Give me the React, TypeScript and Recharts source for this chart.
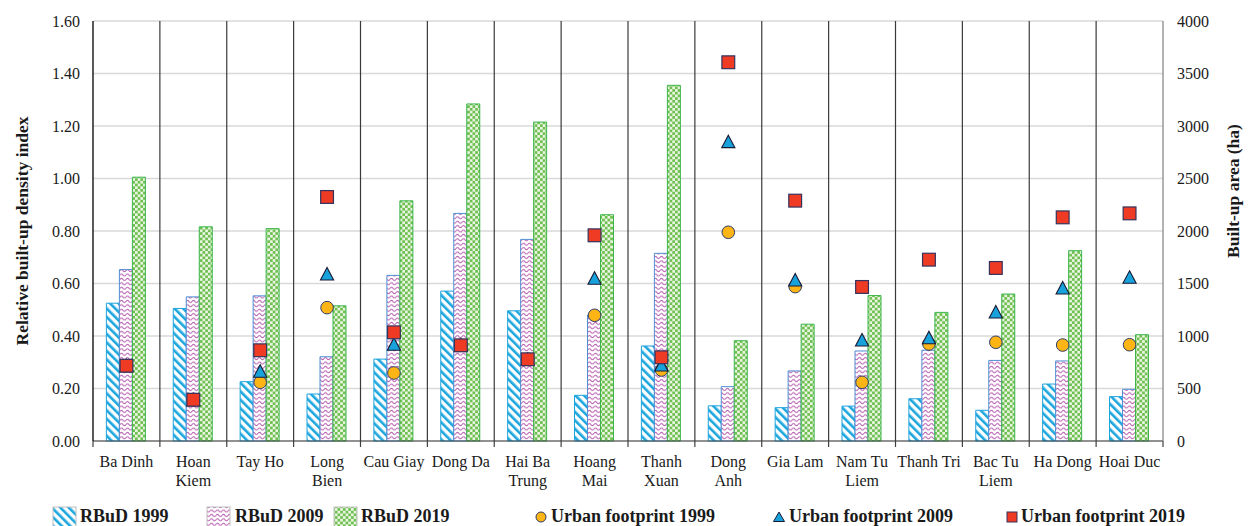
import React from "react"
import { ComposedChart, Bar, Line, XAxis, YAxis, CartesianGrid } from "recharts"

const categories = [
  "Ba Dinh", "Hoan Kiem", "Tay Ho", "Long Bien", "Cau Giay", "Dong Da",
  "Hai Ba Trung", "Hoang Mai", "Thanh Xuan", "Dong Anh", "Gia Lam",
  "Nam Tu Liem", "Thanh Tri", "Bac Tu Liem", "Ha Dong", "Hoai Duc",
]

// two-line labels as they wrap under the axis
const tickLabels = [
  "Ba Dinh", "Hoan\nKiem", "Tay Ho", "Long\nBien", "Cau Giay", "Dong Da",
  "Hai Ba\nTrung", "Hoang\nMai", "Thanh\nXuan", "Dong\nAnh", "Gia Lam",
  "Nam Tu\nLiem", "Thanh Tri", "Bac Tu\nLiem", "Ha Dong", "Hoai Duc",
]

// relative built-up density index (left axis)
const rbud1999 = [0.525, 0.505, 0.226, 0.179, 0.312, 0.571, 0.496, 0.174, 0.362, 0.134, 0.127, 0.133, 0.161, 0.117, 0.217, 0.169]
const rbud2009 = [0.653, 0.549, 0.553, 0.321, 0.631, 0.867, 0.768, 0.48, 0.715, 0.207, 0.267, 0.343, 0.346, 0.307, 0.305, 0.197]
const rbud2019 = [1.005, 0.816, 0.809, 0.515, 0.915, 1.284, 1.215, 0.862, 1.355, 0.382, 0.445, 0.554, 0.49, 0.56, 0.725, 0.405]

// built-up area in ha (right axis)
const footprint1999 = [717, 393, 559, 1270, 648, 911, 778, 1197, 676, 1988, 1470, 559, 924, 940, 914, 917]
const footprint2009 = [717, 393, 665, 1590, 921, 911, 778, 1550, 724, 2851, 1533, 962, 984, 1229, 1457, 1559]
const footprint2019 = [717, 393, 864, 2324, 1035, 911, 778, 1959, 797, 3607, 2289, 1467, 1727, 1648, 2130, 2168]

const leftTicks = [0, 0.2, 0.4, 0.6, 0.8, 1.0, 1.2, 1.4, 1.6]
const rightTicks = [0, 500, 1000, 1500, 2000, 2500, 3000, 3500, 4000]

const data = categories.map((name, i) => ({
  name,
  rbud1999: rbud1999[i],
  rbud2009: rbud2009[i],
  rbud2019: rbud2019[i],
  fp1999: footprint1999[i],
  fp2009: footprint2009[i],
  fp2019: footprint2019[i],
}))

const FONT = '"Liberation Serif", "Times New Roman", serif'
const TEXT = "#1a1a1a"

const C1999 = { fill: "url(#p1999)", stroke: "#1fa3dc" }
const C2009 = { fill: "url(#p2009)", stroke: "#4f8fd3" }
const C2019 = { fill: "url(#p2019)", stroke: "#3bb54a" }

const circleStyle = { fill: "#fdb515", stroke: "#2e3d6b" }
const triStyle = { fill: "#17a2dc", stroke: "#1a1a33" }
const squareStyle = { fill: "#ef3b24", stroke: "#33335e" }

function Patterns() {
  return (
    <svg width={0} height={0} style={{ position: "absolute" }}>
      <defs>
        <pattern id="p1999" patternUnits="userSpaceOnUse" width={6} height={6} patternTransform="rotate(-45)">
          <rect width={6} height={6} fill="#ffffff" />
          <rect width={2.6} height={6} fill="#1ca6de" />
        </pattern>
        <pattern id="p2009" patternUnits="userSpaceOnUse" width={6} height={4.4}>
          <rect width={6} height={4.4} fill="#ffffff" />
          <path d="M0 2.2 Q1.5 0.2 3 2.2 T6 2.2" fill="none" stroke="#b455ab" strokeWidth={1.1} strokeOpacity={0.9} />
        </pattern>
        <pattern id="p2019" patternUnits="userSpaceOnUse" width={5.4} height={5.4}>
          <rect width={5.4} height={5.4} fill="#e9f5e2" />
          <rect width={2.7} height={2.7} fill="#6fc051" />
          <rect x={2.7} y={2.7} width={2.7} height={2.7} fill="#6fc051" />
        </pattern>
      </defs>
    </svg>
  )
}

function CategoryTick(props: any) {
  const { x, y, payload, index } = props
  const lines = (tickLabels[index] ?? String(payload.value)).split("\n")
  const half = payload.offset ?? 33.4
  return (
    <g>
      <line x1={x - half} x2={x - half} y1={y - 6} y2={y} stroke="#404040" strokeWidth={1.2} />
      {index === categories.length - 1 && (
        <line x1={x + half} x2={x + half} y1={y - 6} y2={y} stroke="#404040" strokeWidth={1.2} />
      )}
      <text x={x} y={y} textAnchor="middle" fill={TEXT} fontSize={16} fontFamily={FONT}>
        {lines.map((l: string, i: number) => (
          <tspan key={i} x={x} dy={i === 0 ? 20 : 19}>{l}</tspan>
        ))}
      </text>
    </g>
  )
}

const renderCircle = (p: any) => {
  if (p.cx == null || p.cy == null) return <g key={`c${p.index}`} />
  return <circle key={`c${p.index}`} cx={p.cx} cy={p.cy} r={6.3} {...circleStyle} strokeWidth={1} />
}

const renderTriangle = (p: any) => {
  if (p.cx == null || p.cy == null) return <g key={`t${p.index}`} />
  const { cx, cy } = p
  return (
    <path
      key={`t${p.index}`}
      d={`M${cx} ${cy - 6.5} L${cx + 6.6} ${cy + 6} L${cx - 6.6} ${cy + 6} Z`}
      {...triStyle}
      strokeWidth={1.1}
    />
  )
}

const renderSquare = (p: any) => {
  if (p.cx == null || p.cy == null) return <g key={`s${p.index}`} />
  return <rect key={`s${p.index}`} x={p.cx - 6.4} y={p.cy - 6.4} width={12.8} height={12.8} {...squareStyle} strokeWidth={1.2} />
}

const separatorGenerator = ({ offset }: any) =>
  categories.slice(1).map((_, i) => offset.left + ((i + 1) * offset.width) / categories.length)

function LeftTitle(props: any) {
  const vb = props.viewBox || {}
  const x = vb.x + 9
  const y = vb.y + vb.height / 2
  return (
    <text x={x} y={y} transform={`rotate(-90 ${x} ${y})`} textAnchor="middle" dominantBaseline="central"
      fontSize={17.5} fontWeight="bold" fontFamily={FONT} fill={TEXT}>
      Relative built-up density index
    </text>
  )
}

function RightTitle(props: any) {
  const vb = props.viewBox || {}
  const x = vb.x + 70
  const y = vb.y + 170
  return (
    <text x={x} y={y} transform={`rotate(-90 ${x} ${y})`} textAnchor="middle" dominantBaseline="central"
      fontSize={17.5} fontWeight="bold" fontFamily={FONT} fill={TEXT}>
      Built-up area (ha)
    </text>
  )
}

const legendBars = [
  { label: "RBuD 1999", style: C1999, swatch: 53, text: 80 },
  { label: "RBuD 2009", style: C2009, swatch: 207, text: 235 },
  { label: "RBuD 2019", style: C2019, swatch: 334, text: 361 },
]

function ChartLegend() {
  const base = 22
  return (
    <svg width={1250} height={26} style={{ position: "absolute", left: 0, top: 500 }}>
      {legendBars.map((b) => (
        <g key={b.label}>
          <rect x={b.swatch} y={7} width={23} height={22} fill={b.style.fill} stroke="#bfbfbf" strokeWidth={1} />
          <text x={b.text} y={base} fontSize={18} fontWeight="bold" fontFamily={FONT} fill={TEXT}>{b.label}</text>
        </g>
      ))}
      <circle cx={541} cy={17} r={5} {...circleStyle} strokeWidth={1} />
      <text x={551} y={base} fontSize={18} fontWeight="bold" fontFamily={FONT} fill={TEXT}>Urban footprint 1999</text>
      <path d="M779 12 L784.5 21.5 L773.5 21.5 Z" {...triStyle} strokeWidth={1} />
      <text x={789} y={base} fontSize={18} fontWeight="bold" fontFamily={FONT} fill={TEXT}>Urban footprint 2009</text>
      <rect x={1007} y={12} width={10} height={10} {...squareStyle} strokeWidth={1} />
      <text x={1021} y={base} fontSize={18} fontWeight="bold" fontFamily={FONT} fill={TEXT}>Urban footprint 2019</text>
    </svg>
  )
}

export default function App() {
  return (
    <div style={{ position: "absolute", left: 0, top: 0, width: 1250, height: 526, background: "#fff", overflow: "hidden", fontFamily: FONT }}>
      <Patterns />
      <ComposedChart
        width={1250}
        height={526}
        data={data}
        margin={{ top: 21, right: 7, bottom: 35, left: 13 }}
        barCategoryGap="20%"
        barGap={0}
      >
        <CartesianGrid yAxisId="left" vertical={false} stroke="#d9d9d9" strokeWidth={1.5} />
        <CartesianGrid yAxisId="left" horizontal={false} stroke="#3a3a3a" strokeWidth={1.2}
          verticalCoordinatesGenerator={separatorGenerator} />
        <XAxis
          dataKey="name"
          height={50}
          interval={0}
          tickLine={false}
          tickSize={6}
          tickMargin={0}
          axisLine={{ stroke: "#404040", strokeWidth: 1.2 }}
          tick={<CategoryTick />}
        />
        <YAxis
          yAxisId="left"
          width={80}
          domain={[0, 1.6]}
          ticks={leftTicks}
          tickFormatter={(v) => Number(v).toFixed(2)}
          tickLine={false}
          tickMargin={7}
          axisLine={{ stroke: "#000", strokeWidth: 1.3 }}
          tick={{ fontSize: 16, fill: TEXT, fontFamily: FONT }}
          label={<LeftTitle />}
        />
        <YAxis
          yAxisId="right"
          orientation="right"
          width={80}
          domain={[0, 4000]}
          ticks={rightTicks}
          tickLine={false}
          tickMargin={8}
          axisLine={{ stroke: "#808080", strokeWidth: 1.2 }}
          tick={{ fontSize: 16, fill: TEXT, fontFamily: FONT, textAnchor: "start" }}
          label={<RightTitle />}
        />
        <Bar yAxisId="left" dataKey="rbud1999" name="RBuD 1999" fill={C1999.fill} stroke={C1999.stroke} strokeWidth={1} isAnimationActive={false} />
        <Bar yAxisId="left" dataKey="rbud2009" name="RBuD 2009" fill={C2009.fill} stroke={C2009.stroke} strokeWidth={1} isAnimationActive={false} />
        <Bar yAxisId="left" dataKey="rbud2019" name="RBuD 2019" fill={C2019.fill} stroke={C2019.stroke} strokeWidth={1} isAnimationActive={false} />
        <Line yAxisId="right" dataKey="fp1999" name="Urban footprint 1999" stroke="none" dot={renderCircle} activeDot={false} legendType="none" isAnimationActive={false} />
        <Line yAxisId="right" dataKey="fp2009" name="Urban footprint 2009" stroke="none" dot={renderTriangle} activeDot={false} legendType="none" isAnimationActive={false} />
        <Line yAxisId="right" dataKey="fp2019" name="Urban footprint 2019" stroke="none" dot={renderSquare} activeDot={false} legendType="none" isAnimationActive={false} />
      </ComposedChart>
      <ChartLegend />
    </div>
  )
}
